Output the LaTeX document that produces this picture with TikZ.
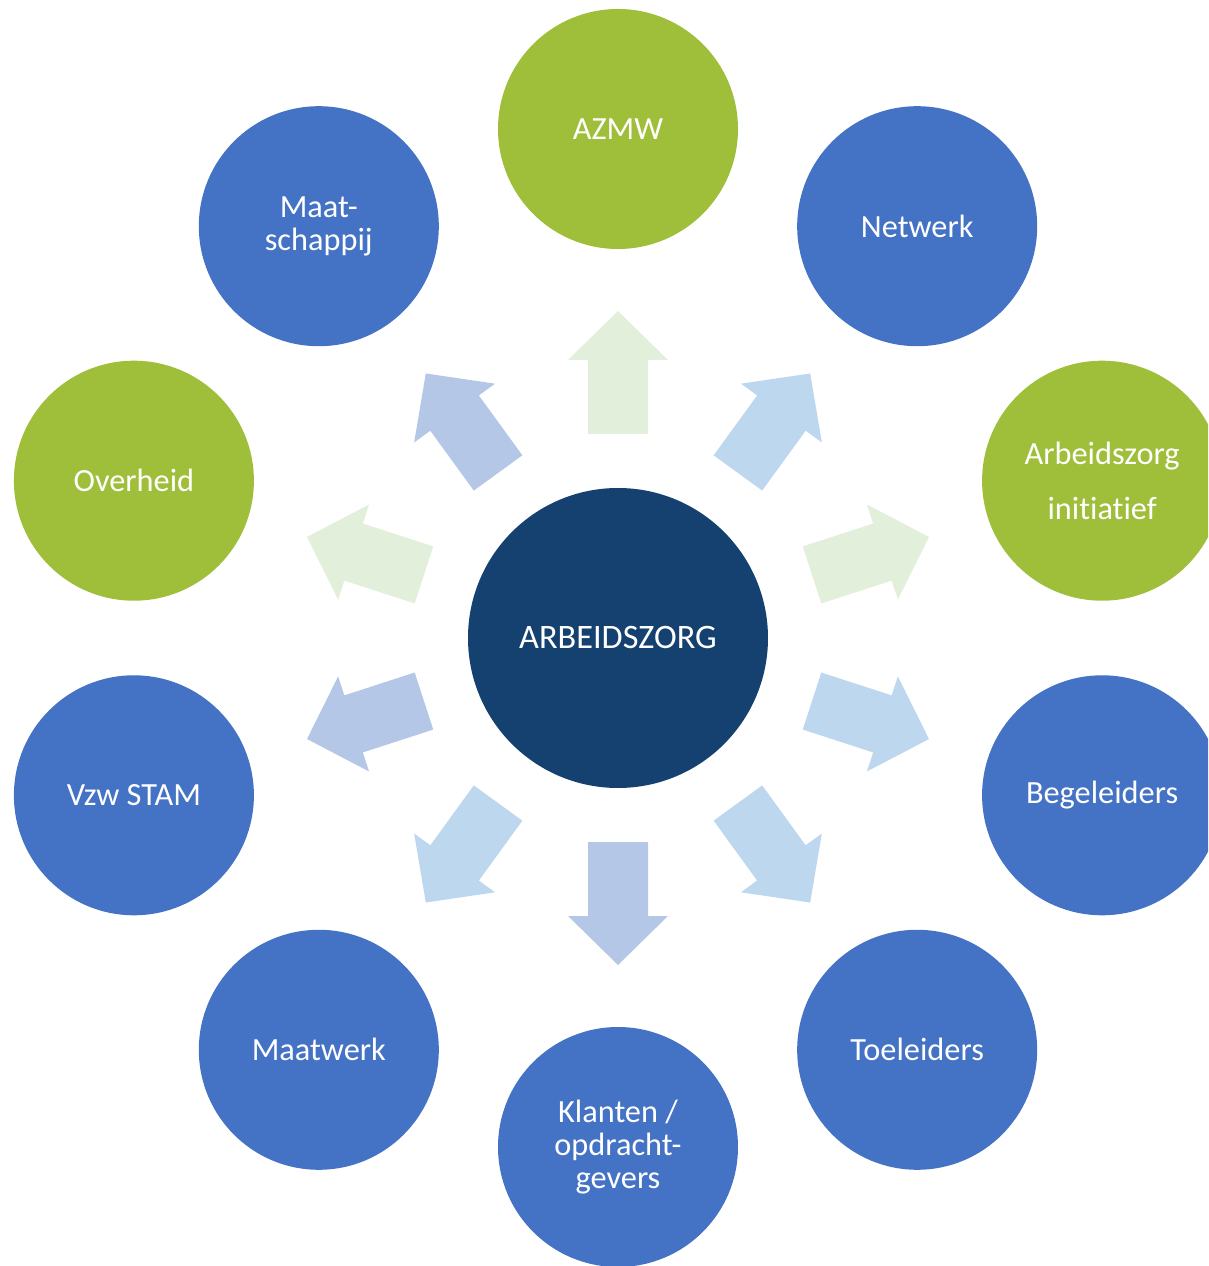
\documentclass[tikz,border=0pt]{standalone}
\usepackage{fontspec}
\setmainfont{Carlito}[Ligatures=NoCommon]
\usetikzlibrary{calc}
\definecolor{zorgnavy}{RGB}{20,65,112}
\definecolor{partnerblue}{RGB}{68,114,196}
\definecolor{partnergreen}{RGB}{159,190,58}
\definecolor{arrowgreen}{RGB}{226,239,218}
\definecolor{arrowsky}{RGB}{189,215,238}
\definecolor{arrowlilac}{RGB}{180,199,231}
\tikzset{
	hub/.style={circle, fill=zorgnavy, text=white, minimum size=6cm, inner sep=0pt,
		font=\fontsize{19.5}{20}\selectfont},
	partner/.style={circle, fill=partnerblue, text=white, minimum size=4.8cm, inner sep=0pt,
		align=center, font=\fontsize{18.4}{19}\selectfont},
	partnerg/.style={partner, fill=partnergreen}
}
\def\radialarrow[#1](#2){\fill[#1, rotate=#2] (4.08,-0.6) -- (5.56,-0.6) -- (5.56,-1.0) -- (6.54,0) -- (5.56,1.0) -- (5.56,0.6) -- (4.08,0.6) -- cycle;}

\begin{document}
\begin{tikzpicture}
			%%%%% START %%%%%
			
			\useasboundingbox (-12.36, -12.56) rectangle (11.8, 12.76);
			\clip (-12.36, -12.56) rectangle (11.8, 12.76);
			
			\node[hub] (zorg) at (0, 0) {ARBEIDSZORG};
			
			\radialarrow[arrowgreen](90);
			\radialarrow[arrowsky](54);
			\radialarrow[arrowgreen](18);
			\radialarrow[arrowsky](-18);
			\radialarrow[arrowsky](-54);
			\radialarrow[arrowlilac](-90);
			\radialarrow[arrowsky](-126);
			\radialarrow[arrowlilac](-162);
			\radialarrow[arrowgreen](162);
			\radialarrow[arrowlilac](126);
			
			\node[partnerg] (azmw) at (90:10.18) {AZMW};
			\node[partner] (netwerk) at (54:10.18) {Netwerk};
			\node[partnerg] (initiatief) at (18:10.18) {Arbeidszorg\\[12pt]initiatief};
			\node[partner] (begeleiders) at (-18:10.18) {Begeleiders};
			\node[partner] (toeleiders) at (-54:10.18) {Toeleiders};
			\node[partner] (klanten) at (-90:10.18) {Klanten /\\opdracht-\\gevers};
			\node[partner] (maatwerk) at (-126:10.18) {Maatwerk};
			\node[partner] (stam) at (-162:10.18) {Vzw STAM};
			\node[partnerg] (overheid) at (162:10.18) {Overheid};
			\node[partner] (maatschappij) at (126:10.18) {Maat-\\schappij};
			
			%%%%% END %%%%%
		\end{tikzpicture}
\end{document}
